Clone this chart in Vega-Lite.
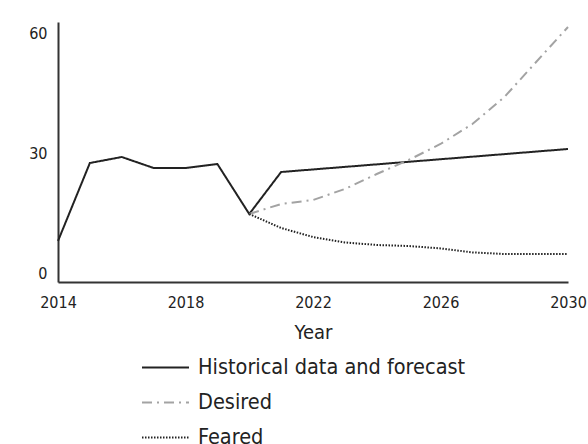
{
  "$schema": "https://vega.github.io/schema/vega-lite/v6.json",
  "autosize": {"type": "none"},
  "padding": {"left": 58, "top": 22, "right": 20, "bottom": 162},
  "width": 510,
  "height": 260,
  "background": "white",
  "config": {
    "view": {"stroke": null},
    "font": "DejaVu Sans Condensed",
    "axis": {"grid": false, "ticks": false, "domainColor": "#333", "domainWidth": 2, "labelColor": "#222", "labelFont": "DejaVu Sans Condensed", "titleFont": "DejaVu Sans Condensed", "titleColor": "#222", "titleFontWeight": "normal"}
  },
  "data": {
    "values": [
      {"year": 2014, "value": 10.25, "series": "Historical data and forecast"},
      {"year": 2015, "value": 29.75, "series": "Historical data and forecast"},
      {"year": 2016, "value": 31.25, "series": "Historical data and forecast"},
      {"year": 2017, "value": 28.5, "series": "Historical data and forecast"},
      {"year": 2018, "value": 28.5, "series": "Historical data and forecast"},
      {"year": 2019, "value": 29.5, "series": "Historical data and forecast"},
      {"year": 2020, "value": 17, "series": "Historical data and forecast"},
      {"year": 2021, "value": 27.5, "series": "Historical data and forecast"},
      {"year": 2025, "value": 30.05, "series": "Historical data and forecast"},
      {"year": 2030, "value": 33.25, "series": "Historical data and forecast"},
      {"year": 2020, "value": 17, "series": "Desired"},
      {"year": 2021, "value": 19.5, "series": "Desired"},
      {"year": 2022, "value": 20.5, "series": "Desired"},
      {"year": 2023, "value": 23.25, "series": "Desired"},
      {"year": 2024, "value": 27, "series": "Desired"},
      {"year": 2025, "value": 30.5, "series": "Desired"},
      {"year": 2026, "value": 34.5, "series": "Desired"},
      {"year": 2027, "value": 39.5, "series": "Desired"},
      {"year": 2028, "value": 46.2, "series": "Desired"},
      {"year": 2029, "value": 55, "series": "Desired"},
      {"year": 2030, "value": 63.75, "series": "Desired"},
      {"year": 2020, "value": 17, "series": "Feared"},
      {"year": 2021, "value": 13.5, "series": "Feared"},
      {"year": 2022, "value": 11.25, "series": "Feared"},
      {"year": 2023, "value": 9.9, "series": "Feared"},
      {"year": 2024, "value": 9.25, "series": "Feared"},
      {"year": 2025, "value": 9, "series": "Feared"},
      {"year": 2026, "value": 8.4, "series": "Feared"},
      {"year": 2027, "value": 7.4, "series": "Feared"},
      {"year": 2028, "value": 7, "series": "Feared"},
      {"year": 2029, "value": 7, "series": "Feared"},
      {"year": 2030, "value": 7, "series": "Feared"}
    ]
  },
  "mark": {"type": "line", "strokeWidth": 2},
  "encoding": {
    "x": {
      "field": "year", "type": "quantitative",
      "scale": {"domain": [2014, 2030], "nice": false, "zero": false},
      "axis": {"values": [2014, 2018, 2022, 2026, 2030], "format": "d", "labelFontSize": 16, "labelPadding": 12, "labelFlush": false, "title": "Year", "titleFontSize": 20, "titlePadding": 12}
    },
    "y": {
      "field": "value", "type": "quantitative",
      "scale": {"domain": [0, 65], "nice": false},
      "axis": {"values": [0, 30, 60], "labelFontSize": 16, "labelPadding": 11, "labelBaseline": "alphabetic", "labelOffset": -4, "title": null}
    },
    "color": {
      "field": "series", "type": "nominal",
      "scale": {"domain": ["Historical data and forecast", "Desired", "Feared"], "range": ["#222222", "#a3a3a3", "#222222"]},
      "legend": {
        "title": null, "orient": "none", "legendX": 83, "legendY": 321, "direction": "vertical",
        "symbolType": "stroke", "symbolSize": 2209, "symbolStrokeWidth": 2,
        "labelFontSize": 21.5, "labelColor": "#222", "labelFont": "DejaVu Sans Condensed", "labelOffset": 8, "labelLimit": 0, "rowPadding": 0
      }
    },
    "strokeDash": {
      "field": "series", "type": "nominal",
      "scale": {"domain": ["Historical data and forecast", "Desired", "Feared"], "range": [[1, 0], [10, 5, 2, 5], [1.5, 1.5]]},
      "legend": {
        "title": null, "orient": "none", "legendX": 83, "legendY": 321, "direction": "vertical",
        "symbolType": "stroke", "symbolSize": 2209, "symbolStrokeWidth": 2,
        "labelFontSize": 21.5, "labelColor": "#222", "labelFont": "DejaVu Sans Condensed", "labelOffset": 8, "labelLimit": 0, "rowPadding": 0
      }
    }
  }
}
